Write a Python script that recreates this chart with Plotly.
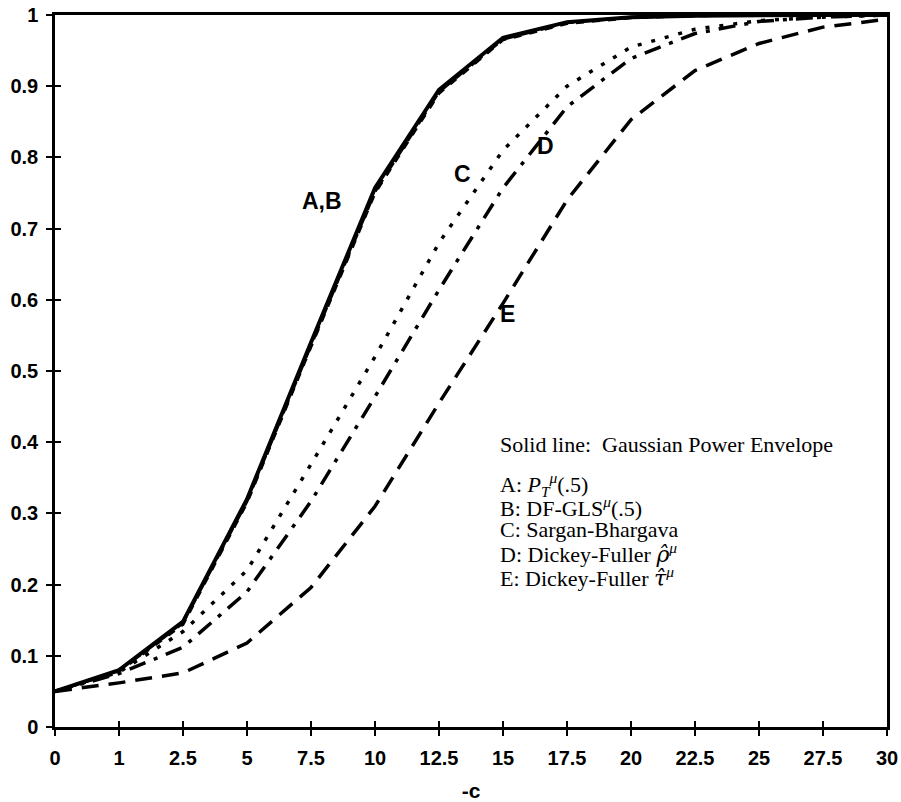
import plotly.graph_objects as go

categories = ["0", "1", "2.5", "5", "7.5", "10", "12.5", "15", "17.5", "20", "22.5", "25", "27.5", "30"]

envelope = [0.050, 0.080, 0.148, 0.320, 0.540, 0.757, 0.895, 0.968, 0.990, 0.997, 0.999, 1.000, 1.000, 1.000]
series_a = [0.050, 0.079, 0.146, 0.317, 0.536, 0.752, 0.892, 0.966, 0.989, 0.997, 0.999, 1.000, 1.000, 1.000]
series_b = [0.050, 0.078, 0.144, 0.315, 0.534, 0.750, 0.890, 0.965, 0.988, 0.996, 0.999, 1.000, 1.000, 1.000]
series_c = [0.050, 0.077, 0.134, 0.220, 0.369, 0.520, 0.680, 0.810, 0.900, 0.955, 0.980, 0.992, 0.997, 1.000]
series_d = [0.050, 0.075, 0.112, 0.190, 0.317, 0.464, 0.614, 0.757, 0.871, 0.939, 0.974, 0.991, 0.997, 1.000]
series_e = [0.050, 0.062, 0.076, 0.118, 0.196, 0.310, 0.455, 0.595, 0.740, 0.853, 0.922, 0.960, 0.983, 0.994]

y_ticks = [0, 0.1, 0.2, 0.3, 0.4, 0.5, 0.6, 0.7, 0.8, 0.9, 1]
y_tick_text = ["0", "0.1", "0.2", "0.3", "0.4", "0.5", "0.6", "0.7", "0.8", "0.9", "1"]

hat = "font-family:DejaVu Serif;font-style:italic"
legend_lines = [
    "Solid line:  Gaussian Power Envelope",
    "A: <i>P</i><sub><i>T</i></sub><sup><i>μ</i></sup>(.5)",
    "B: DF-GLS<sup><i>μ</i></sup>(.5)",
    "C: Sargan-Bhargava",
    f"D: Dickey-Fuller <span style='{hat}'>ρ̂</span><sup><i>μ</i></sup>",
    f"E: Dickey-Fuller <span style='{hat}'>τ̂</span><sup><i>μ</i></sup>",
]

fig = go.Figure()
fig.add_trace(go.Scatter(x=categories, y=series_e, mode="lines", name="E",
                         line=dict(color="black", width=3.5, dash="17px,10px")))
fig.add_trace(go.Scatter(x=categories, y=series_d, mode="lines", name="D",
                         line=dict(color="black", width=3.5, dash="17px,9px,4px,9px")))
fig.add_trace(go.Scatter(x=categories, y=series_c, mode="lines", name="C",
                         line=dict(color="black", width=3.5, dash="4px,10px")))
fig.add_trace(go.Scatter(x=categories, y=envelope, mode="lines", name="Envelope",
                         line=dict(color="black", width=4)))
fig.add_trace(go.Scatter(x=categories, y=series_a, mode="lines", name="A",
                         line=dict(color="black", width=3, dash="14px,6px")))
fig.add_trace(go.Scatter(x=categories, y=series_b, mode="lines", name="B",
                         line=dict(color="black", width=3, dash="8px,8px")))

tickfont = dict(family="Liberation Sans", size=20, color="black", weight="bold")

fig.update_layout(
    width=901, height=802,
    margin=dict(l=55, r=14, t=15, b=75, autoexpand=False),
    paper_bgcolor="white", plot_bgcolor="white",
    showlegend=False,
    xaxis=dict(type="category", range=[0, 13], showgrid=False, zeroline=False, automargin=False,
               showline=True, linecolor="black", linewidth=2.5, mirror=True,
               ticks="outside", ticklen=6, tickwidth=1.5, tickcolor="black",
               tickfont=tickfont, ticklabelstandoff=5,
               title=dict(text="-c", font=dict(family="Liberation Sans", size=21, color="black", weight="bold"),
                          standoff=21)),
    yaxis=dict(range=[0, 1], tickvals=y_ticks, ticktext=y_tick_text, showgrid=False, zeroline=False,
               automargin=False,
               showline=True, linecolor="black", linewidth=2.5, mirror=True,
               ticks="outside", ticklen=6, tickwidth=1.5, tickcolor="black",
               tickfont=tickfont, ticklabelstandoff=4),
    xaxis2=dict(overlaying="x", range=[0, 13], tickvals=list(range(len(categories))),
                showticklabels=False, ticks="inside", ticklen=6, tickwidth=1.5, tickcolor="black",
                showgrid=False, zeroline=False, showline=False, side="bottom", automargin=False),
    yaxis2=dict(overlaying="y", range=[0, 1], tickvals=y_ticks, showticklabels=False,
                ticks="inside", ticklen=6, tickwidth=1.5, tickcolor="black",
                showgrid=False, zeroline=False, showline=False, side="left", automargin=False),
    font=dict(family="Liberation Sans", color="black"),
)

# invisible trace to make the overlay axes render
fig.add_trace(go.Scatter(x=[0], y=[0], xaxis="x2", yaxis="y2", mode="markers",
                         marker=dict(opacity=0), hoverinfo="skip"))

label_font = dict(family="Liberation Sans", size=23, color="black", weight="bold")
for txt, xp, yp in [("A,B", 0.321, 0.739), ("C", 0.490, 0.777),
                    ("D", 0.589, 0.816), ("E", 0.544, 0.580)]:
    fig.add_annotation(text=txt, x=xp, y=yp, xref="paper", yref="paper",
                       showarrow=False, font=label_font, xanchor="center", yanchor="middle")

legend_y = [0.397, 0.340, 0.309, 0.277, 0.244, 0.211]
serif = dict(family="Liberation Serif", size=22, color="black")
for txt, yp in zip(legend_lines, legend_y):
    fig.add_annotation(text=txt, x=0.532, y=yp, xref="paper", yref="paper",
                       showarrow=False, font=serif, xanchor="left", yanchor="middle")

fig.write_html("out.html", config={"displayModeBar": False},
               post_script="document.body.style.margin='0';document.body.style.overflow='hidden';")
